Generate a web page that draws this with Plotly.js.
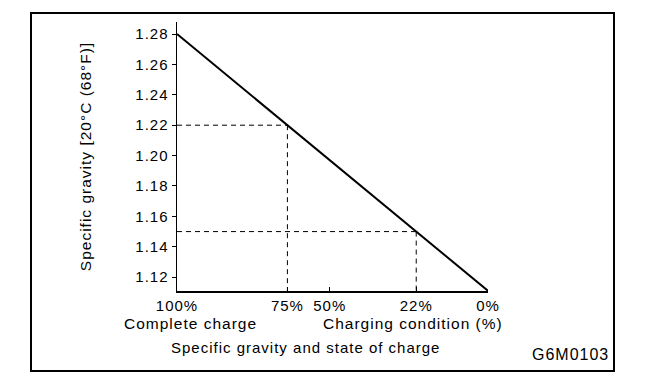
<!DOCTYPE html>
<html>
<head>
<meta charset="utf-8">
<script src="https://cdn.plot.ly/plotly-3.0.1.min.js"></script>
<style>
html,body{margin:0;padding:0;background:#fff;}
svg text{letter-spacing:1px;}
</style>
</head>
<body>
<div id="chart" style="width:672px;height:384px;"></div>
<script>
// Charge levels and the specific gravity each corresponds to (x axis is linear in specific gravity)
const chargeLabels = ['100%', '75%', '50%', '22%', '0%'];
const chargeGravity = [1.28, 1.22, 1.197, 1.15, 1.111];
// Main relation: full charge -> 1.28, empty -> 1.111
const lineCharge = ['100%', '0%'];
const lineGravity = [1.28, 1.111];
// Reference readings (dashed guides)
const refCharge = ['75%', '22%'];
const refGravity = [1.22, 1.15];
// Y axis ticks
const yTicks = [1.12, 1.14, 1.16, 1.18, 1.20, 1.22, 1.24, 1.26, 1.28];

const W = 672, H = 384;
const L = 177, R = 488, T = 22, B = 291;
const px = p => (p - L) / (R - L);
const py = p => (B - p) / (B - T);
const yRange = [1.1109, 1.2879];
const xRange = [1.28, 1.111];
const gOf = c => chargeGravity[chargeLabels.indexOf(c)];

const FONT = 'Liberation Sans, Arial, sans-serif';
const traces = [];
// dashed guides
refCharge.forEach((c, i) => {
  const gx = gOf(c), gy = refGravity[i];
  traces.push({
    x: [xRange[0], gx], y: [gy, gy], mode: 'lines', hoverinfo: 'skip',
    line: {color: '#000', width: 1, dash: '5px,4px'}, showlegend: false
  });
  traces.push({
    x: [gx, gx], y: [gy, yRange[0]], mode: 'lines', hoverinfo: 'skip',
    line: {color: '#000', width: 1, dash: '5px,4px'}, showlegend: false
  });
});
traces.push({
  x: lineCharge.map(gOf), y: lineGravity, mode: 'lines',
  line: {color: '#000', width: 2}, showlegend: false
});

const layout = {
  width: W, height: H,
  margin: {l: L, r: W - R, t: T, b: H - B, pad: 0},
  paper_bgcolor: '#fff', plot_bgcolor: '#fff',
  font: {family: FONT, color: '#000', size: 15},
  showlegend: false,
  xaxis: {
    range: xRange, tickmode: 'array', tickvals: chargeGravity, ticktext: chargeLabels,
    showgrid: false, zeroline: false, showline: true, linecolor: '#000', linewidth: 1.5,
    ticks: 'inside', ticklen: 4, tickcolor: '#000', tickwidth: 1,
    tickfont: {family: FONT, size: 15, color: '#000'}
  },
  yaxis: {
    range: yRange, tickmode: 'array', tickvals: yTicks,
    ticktext: yTicks.map(v => v.toFixed(2)),
    showgrid: false, zeroline: false, showline: true, linecolor: '#000', linewidth: 1.5,
    ticks: 'outside', ticklen: 4, tickcolor: '#000', tickwidth: 1,
    tickfont: {family: FONT, size: 15, color: '#000'},
    title: {text: 'Specific gravity [20°C (68°F)]', font: {family: FONT, size: 15.5, color: '#000'}, standoff: 40}
  },
  shapes: [{
    type: 'rect', xref: 'paper', yref: 'paper',
    x0: px(31), x1: px(614), y0: py(371), y1: py(13),
    line: {color: '#000', width: 2}
  }],
  annotations: [
    {text: 'Complete charge', xref: 'paper', yref: 'paper', x: px(190), y: py(323),
     xanchor: 'center', yanchor: 'middle', showarrow: false, font: {family: FONT, size: 15.5}},
    {text: 'Charging condition (%)', xref: 'paper', yref: 'paper', x: px(413), y: py(323),
     xanchor: 'center', yanchor: 'middle', showarrow: false, font: {family: FONT, size: 15.5}},
    {text: 'Specific gravity and state of charge', xref: 'paper', yref: 'paper', x: px(305), y: py(347),
     xanchor: 'center', yanchor: 'middle', showarrow: false, font: {family: FONT, size: 15}},
    {text: 'G6M0103', xref: 'paper', yref: 'paper', x: px(611), y: py(355),
     xanchor: 'right', yanchor: 'middle', showarrow: false, font: {family: FONT, size: 16}}
  ]
};

Plotly.newPlot('chart', traces, layout, {displayModeBar: false, staticPlot: true});
</script>
</body>
</html>
